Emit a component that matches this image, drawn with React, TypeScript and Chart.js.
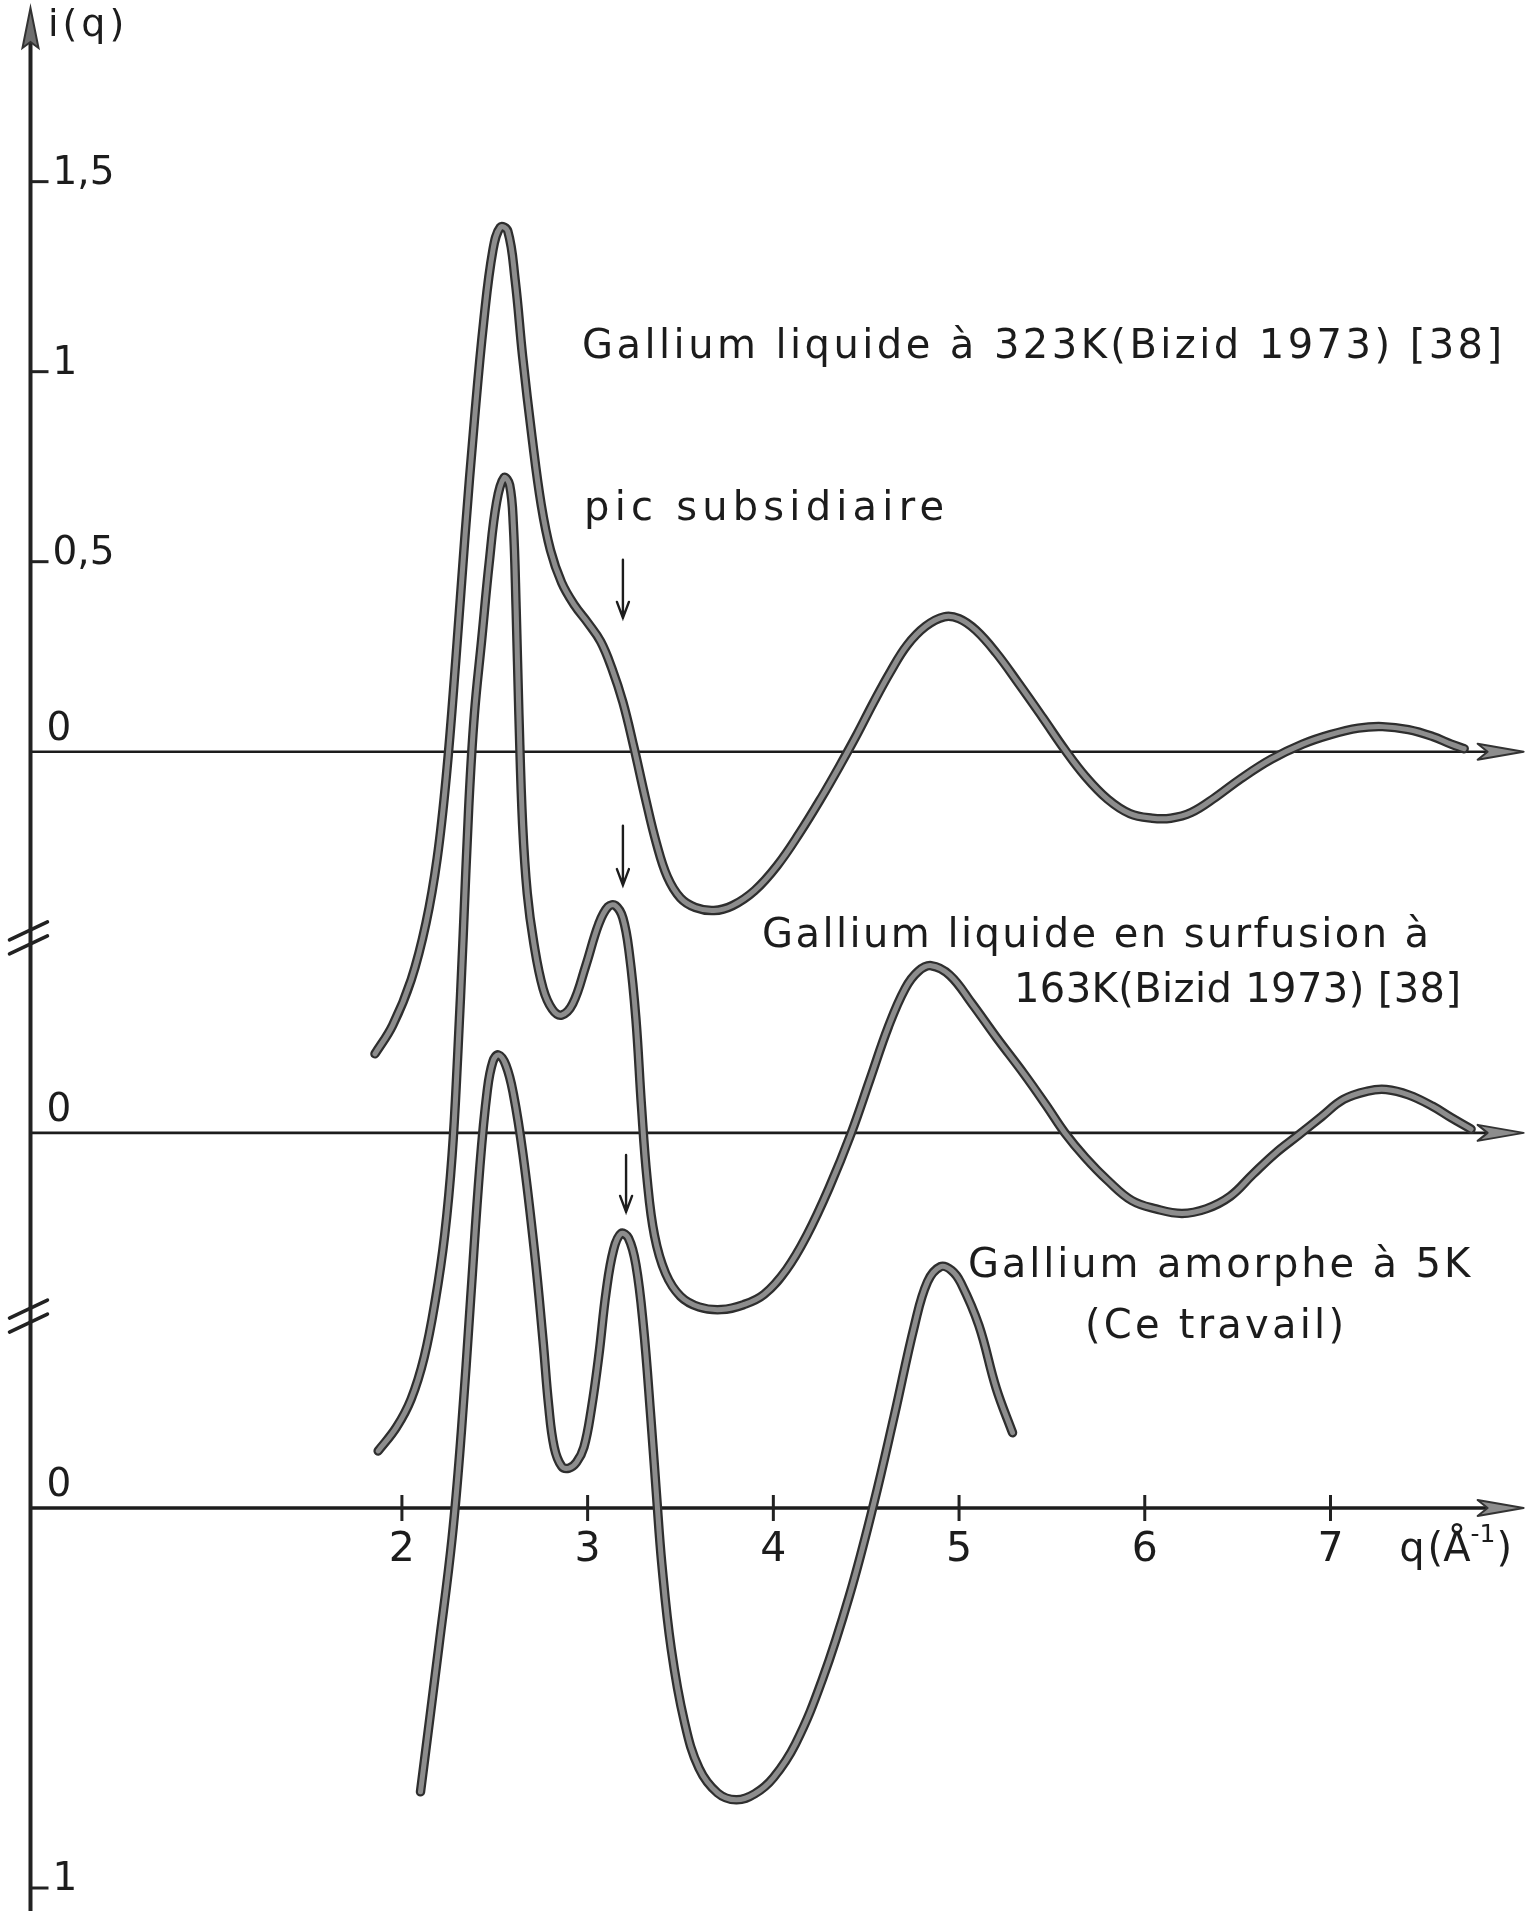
import React, { useEffect, useRef } from "react";
import { Chart, registerables } from "chart.js";

Chart.register(...registerables);

const W = 1529;
const H = 1911;

// ---- data (q in Å^-1, i(q) relative to each curve's own baseline) ----
const Q_323K = [1.855, 1.95, 2.05, 2.13, 2.19, 2.24, 2.29, 2.34, 2.39, 2.44, 2.49, 2.53, 2.57, 2.61, 2.65, 2.7, 2.75, 2.8, 2.86, 2.93, 3.0, 3.07, 3.13, 3.19, 3.25, 3.31, 3.37, 3.43, 3.5, 3.58, 3.68, 3.78, 3.9, 4.02, 4.14, 4.26, 4.36, 4.45, 4.54, 4.63, 4.72, 4.82, 4.92, 5.0, 5.09, 5.2, 5.32, 5.45, 5.57, 5.68, 5.8, 5.92, 6.04, 6.14, 6.25, 6.38, 6.52, 6.68, 6.85, 7.0, 7.15, 7.28, 7.42, 7.55, 7.65, 7.72];
const I_323K = [-0.795, -0.72, -0.6, -0.45, -0.28, -0.06, 0.24, 0.57, 0.87, 1.13, 1.32, 1.38, 1.37, 1.24, 1.04, 0.83, 0.65, 0.53, 0.445, 0.385, 0.34, 0.29, 0.22, 0.13, 0.01, -0.12, -0.24, -0.33, -0.385, -0.41, -0.418, -0.405, -0.365, -0.3, -0.215, -0.12, -0.035, 0.045, 0.13, 0.21, 0.28, 0.33, 0.355, 0.35, 0.32, 0.26, 0.18, 0.09, 0.005, -0.065, -0.125, -0.163, -0.175, -0.175, -0.16, -0.12, -0.07, -0.02, 0.02, 0.045, 0.062, 0.066, 0.058, 0.04, 0.02, 0.008];

const Q_163K = [1.872, 1.97, 2.05, 2.12, 2.18, 2.23, 2.27, 2.3, 2.33, 2.36, 2.39, 2.43, 2.47, 2.51, 2.55, 2.58, 2.6, 2.615, 2.63, 2.65, 2.675, 2.71, 2.76, 2.81, 2.86, 2.92, 2.99, 3.06, 3.11, 3.15, 3.19, 3.225, 3.26, 3.29, 3.32, 3.36, 3.42, 3.5, 3.6, 3.72, 3.84, 3.95, 4.07, 4.18, 4.3, 4.42, 4.52, 4.62, 4.71, 4.78, 4.85, 4.95, 5.07, 5.2, 5.35, 5.47, 5.57, 5.68, 5.8, 5.93, 6.06, 6.2, 6.33, 6.46, 6.58, 6.7, 6.83, 6.95, 7.07, 7.2, 7.3, 7.42, 7.55, 7.65, 7.757];
const I_163K = [-0.837, -0.775, -0.7, -0.59, -0.44, -0.27, -0.06, 0.2, 0.52, 0.86, 1.1, 1.3, 1.5, 1.66, 1.724, 1.705, 1.6, 1.38, 1.1, 0.81, 0.63, 0.5, 0.38, 0.325, 0.31, 0.34, 0.44, 0.55, 0.595, 0.598, 0.565, 0.47, 0.3, 0.07, -0.12, -0.27, -0.37, -0.43, -0.458, -0.465, -0.452, -0.425, -0.36, -0.27, -0.145, 0.0, 0.14, 0.28, 0.38, 0.425, 0.44, 0.415, 0.34, 0.252, 0.155, 0.072, 0.0, -0.065, -0.125, -0.178, -0.2, -0.212, -0.2, -0.167, -0.11, -0.055, -0.005, 0.042, 0.088, 0.11, 0.114, 0.1, 0.07, 0.04, 0.01];

const Q_5K = [2.1, 2.2, 2.27, 2.32, 2.37, 2.42, 2.46, 2.49, 2.52, 2.56, 2.6, 2.652, 2.714, 2.76, 2.79, 2.82, 2.86, 2.9, 2.94, 2.98, 3.02, 3.06, 3.1, 3.14, 3.18, 3.22, 3.26, 3.3, 3.34, 3.37, 3.4, 3.45, 3.52, 3.6, 3.7, 3.8, 3.9, 4.0, 4.12, 4.265, 4.41, 4.54, 4.65, 4.76, 4.83, 4.9, 4.96, 5.01, 5.107, 5.2, 5.288];
const I_5K = [-0.747, -0.36, -0.08, 0.2, 0.55, 0.9, 1.1, 1.175, 1.192, 1.165, 1.09, 0.93, 0.674, 0.44, 0.27, 0.16, 0.11, 0.105, 0.12, 0.16, 0.26, 0.4, 0.57, 0.68, 0.722, 0.71, 0.64, 0.48, 0.24, 0.04, -0.15, -0.37, -0.56, -0.685, -0.75, -0.768, -0.752, -0.71, -0.62, -0.45, -0.23, 0.01, 0.24, 0.48, 0.595, 0.635, 0.625, 0.592, 0.48, 0.315, 0.198];

// vertical shifts of the three stacked curves
const OFFSET_323K = 1.99;
const OFFSET_163K = 0.987;
const OFFSET_5K = 0;

const X_TICKS = [2, 3, 4, 5, 6, 7];
const Y_TICKS_TOP = [0.5, 1, 1.5];
const Y_TICK_LABELS_TOP = ["0,5", "1", "1,5"];
const Y_TICK_BOTTOM = [-1];
const Y_TICK_LABELS_BOTTOM = ["1"];

// scale extents
const X_MIN = -0.1642;
const X_MAX = 8.069;
const Y_MIN = -1.0605;
const Y_MAX = 3.968;
const AXIS_END = 8.04;

const FONT = '"DejaVu Sans", sans-serif';
const INK = "#1c1c1c";
const CURVE_DARK = "#2e2e2e";
const CURVE_GRAY = "#8d8d8d";

// text annotations: [text, qStart, qEnd, y baseline]
const LABELS: [string, number, number, number][] = [
  ["Gallium liquide à 323K(Bizid 1973) [38]", 2.97, 7.924, 3.026],
  ["pic subsidiaire", 2.981, 4.919, 2.6],
  ["Gallium liquide en surfusion à", 3.939, 7.531, 1.476],
  ["163K(Bizid 1973) [38]", 5.296, 7.703, 1.332],
  ["Gallium amorphe à 5K", 5.048, 7.752, 0.608],
  ["(Ce travail)", 5.678, 7.073, 0.447],
];

// small pointing arrows: [q, yTop, yTip]
const POINTERS: [number, number, number][] = [
  [3.19, 2.495, 2.342],
  [3.19, 1.795, 1.639],
  [3.207, 0.929, 0.779],
];

const BREAKS = [1.5, 0.505];

function fitText(ctx: CanvasRenderingContext2D, text: string, x0: number, x1: number, y: number, size: number) {
  ctx.save();
  ctx.font = `${size}px ${FONT}`;
  (ctx as any).letterSpacing = "0px";
  const w = ctx.measureText(text).width;
  const n = Array.from(text).length;
  const ls = n > 1 ? (x1 - x0 - w) / (n - 1) : 0;
  (ctx as any).letterSpacing = `${ls}px`;
  ctx.fillStyle = INK;
  ctx.textAlign = "left";
  ctx.textBaseline = "alphabetic";
  ctx.fillText(text, x0, y);
  ctx.restore();
}

function rightArrow(ctx: CanvasRenderingContext2D, xTip: number, y: number) {
  ctx.save();
  ctx.beginPath();
  ctx.moveTo(xTip, y);
  ctx.lineTo(xTip - 46, y - 8);
  ctx.lineTo(xTip - 36, y);
  ctx.lineTo(xTip - 46, y + 8);
  ctx.closePath();
  ctx.fillStyle = CURVE_GRAY;
  ctx.fill();
  ctx.strokeStyle = "#333";
  ctx.lineWidth = 2;
  ctx.lineJoin = "round";
  ctx.stroke();
  ctx.restore();
}

const axesPlugin = {
  id: "axesPlugin",
  beforeDraw(chart: any) {
    const ctx = chart.ctx as CanvasRenderingContext2D;
    ctx.save();
    ctx.fillStyle = "#ffffff";
    ctx.fillRect(0, 0, chart.width, chart.height);
    ctx.restore();
  },
  beforeDatasetsDraw(chart: any) {
    const ctx = chart.ctx as CanvasRenderingContext2D;
    const xs = chart.scales.x;
    const ys = chart.scales.y;
    const x0 = xs.getPixelForValue(0);
    const xEnd = xs.getPixelForValue(AXIS_END);
    ctx.save();
    ctx.lineCap = "butt";
    // baselines
    [OFFSET_323K, OFFSET_163K, OFFSET_5K].forEach((off, k) => {
      const y = ys.getPixelForValue(off);
      ctx.strokeStyle = INK;
      ctx.lineWidth = k === 2 ? 3.5 : 2.6;
      ctx.beginPath();
      ctx.moveTo(x0, y);
      ctx.lineTo(xEnd - 30, y);
      ctx.stroke();
      rightArrow(ctx, xEnd, y);
    });
    // y axis
    const yTop = ys.getPixelForValue(Y_MAX) + 8;
    ctx.strokeStyle = "#222";
    ctx.lineWidth = 4;
    ctx.beginPath();
    ctx.moveTo(x0, yTop + 30);
    ctx.lineTo(x0, chart.height);
    ctx.stroke();
    ctx.beginPath();
    ctx.moveTo(x0, yTop);
    ctx.lineTo(x0 - 8, yTop + 40);
    ctx.lineTo(x0, yTop + 34);
    ctx.lineTo(x0 + 8, yTop + 40);
    ctx.closePath();
    ctx.fillStyle = "#6e6e6e";
    ctx.fill();
    ctx.strokeStyle = "#333";
    ctx.lineWidth = 2;
    ctx.stroke();
    // axis breaks
    ctx.strokeStyle = "#222";
    ctx.lineWidth = 3.5;
    ctx.lineCap = "round";
    BREAKS.forEach((v) => {
      const c = ys.getPixelForValue(v);
      [-7, 7].forEach((d) => {
        ctx.beginPath();
        ctx.moveTo(x0 - 21, c + d + 9);
        ctx.lineTo(x0 + 17, c + d - 9);
        ctx.stroke();
      });
    });
    // y ticks + labels
    ctx.lineCap = "butt";
    ctx.lineWidth = 3;
    ctx.fillStyle = INK;
    ctx.font = `39px ${FONT}`;
    ctx.textAlign = "left";
    ctx.textBaseline = "alphabetic";
    const yTicks = Y_TICKS_TOP.map((v) => v + OFFSET_323K).concat(Y_TICK_BOTTOM.map((v) => v + OFFSET_5K));
    const yLabels = Y_TICK_LABELS_TOP.concat(Y_TICK_LABELS_BOTTOM);
    yTicks.forEach((v, k) => {
      const y = ys.getPixelForValue(v);
      ctx.beginPath();
      ctx.moveTo(x0, y);
      ctx.lineTo(x0 + 18, y);
      ctx.stroke();
      ctx.fillText(yLabels[k], x0 + 22, y + 2);
    });
    // zero labels
    [OFFSET_323K, OFFSET_163K, OFFSET_5K].forEach((off) => {
      const y = ys.getPixelForValue(off);
      ctx.fillText("0", x0 + 16, y - 12);
    });
    // x ticks + labels
    const yAxis = ys.getPixelForValue(OFFSET_5K);
    ctx.font = `41px ${FONT}`;
    ctx.textAlign = "center";
    X_TICKS.forEach((q) => {
      const x = xs.getPixelForValue(q);
      ctx.beginPath();
      ctx.moveTo(x, yAxis - 13);
      ctx.lineTo(x, yAxis + 13);
      ctx.stroke();
      ctx.fillText(String(q), x, yAxis + 53);
    });
    // axis titles
    ctx.textAlign = "left";
    ctx.font = `38px ${FONT}`;
    (ctx as any).letterSpacing = "4px";
    ctx.fillText("i(q)", xs.getPixelForValue(0.094), ys.getPixelForValue(3.874));
    (ctx as any).letterSpacing = "0px";
    const qx = xs.getPixelForValue(7.37);
    const qy = yAxis + 53;
    ctx.font = `40px ${FONT}`;
    ctx.fillText("q", qx, qy);
    let cx = qx + ctx.measureText("q").width + 3;
    ctx.fillText("(Å", cx, qy);
    cx += ctx.measureText("(Å").width;
    ctx.font = `25px ${FONT}`;
    ctx.fillText("-1", cx, qy - 19);
    cx += ctx.measureText("-1").width + 1;
    ctx.font = `40px ${FONT}`;
    ctx.fillText(")", cx, qy);
    ctx.restore();
  },
  afterDatasetsDraw(chart: any) {
    const ctx = chart.ctx as CanvasRenderingContext2D;
    const xs = chart.scales.x;
    const ys = chart.scales.y;
    LABELS.forEach(([t, q0, q1, y]) => {
      fitText(ctx, t, xs.getPixelForValue(q0), xs.getPixelForValue(q1), ys.getPixelForValue(y), 40);
    });
    ctx.save();
    ctx.strokeStyle = INK;
    ctx.lineWidth = 2.4;
    ctx.lineCap = "round";
    POINTERS.forEach(([q, a, b]) => {
      const x = xs.getPixelForValue(q);
      const y1 = ys.getPixelForValue(a);
      const y2 = ys.getPixelForValue(b);
      ctx.beginPath();
      ctx.moveTo(x, y1);
      ctx.lineTo(x, y2);
      ctx.moveTo(x - 6, y2 - 16);
      ctx.lineTo(x, y2);
      ctx.lineTo(x + 6, y2 - 16);
      ctx.stroke();
    });
    ctx.restore();
  },
};

const SERIES = [
  { q: Q_323K, i: I_323K, offset: OFFSET_323K },
  { q: Q_163K, i: I_163K, offset: OFFSET_163K },
  { q: Q_5K, i: I_5K, offset: OFFSET_5K },
];

export default function App() {
  const ref = useRef<HTMLCanvasElement>(null);
  useEffect(() => {
    document.body.style.margin = "0";
    const canvas = ref.current;
    if (!canvas) return;
    const datasets: any[] = [];
    SERIES.forEach((s, k) => {
      const data = s.q.map((q, j) => ({ x: q, y: s.i[j] + s.offset }));
      const common = {
        data,
        fill: false,
        pointRadius: 0,
        tension: 0.4,
        borderCapStyle: "round",
        borderJoinStyle: "round",
      };
      datasets.push({ ...common, borderColor: CURVE_DARK, borderWidth: 9.5, order: 20 - 2 * k });
      datasets.push({ ...common, borderColor: CURVE_GRAY, borderWidth: 5, order: 19 - 2 * k });
    });
    const chart = new Chart(canvas, {
      type: "line",
      data: { datasets },
      options: {
        animation: false,
        responsive: false,
        maintainAspectRatio: false,
        devicePixelRatio: 1,
        layout: { padding: 0 },
        plugins: { legend: { display: false }, tooltip: { enabled: false } },
        scales: {
          x: { type: "linear", min: X_MIN, max: X_MAX, display: false },
          y: { type: "linear", min: Y_MIN, max: Y_MAX, display: false },
        },
      },
      plugins: [axesPlugin as any],
    } as any);
    return () => chart.destroy();
  }, []);
  return (
    <div style={{ width: W, height: H, position: "relative", background: "#fff" }}>
      <canvas ref={ref} width={W} height={H} style={{ display: "block", width: W, height: H }} />
    </div>
  );
}
